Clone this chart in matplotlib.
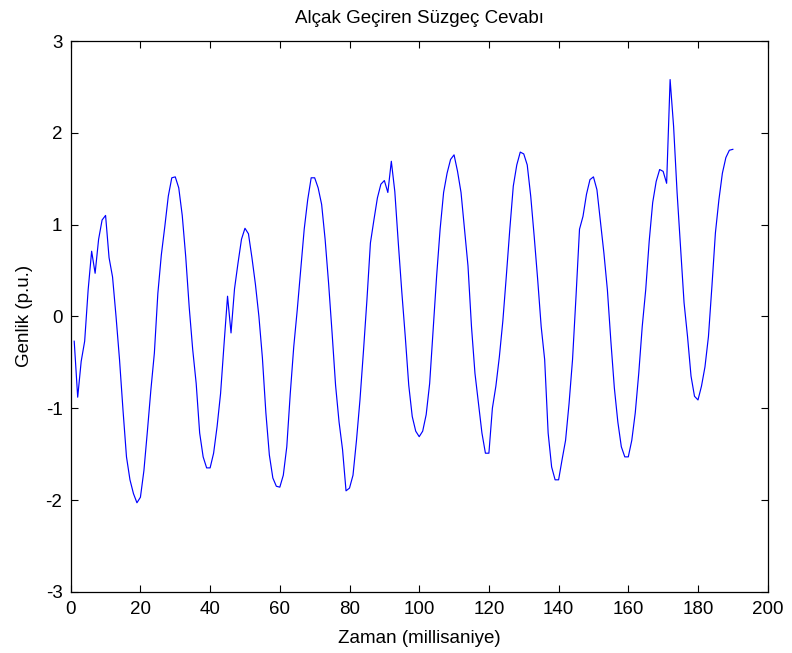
import numpy as np
import matplotlib
matplotlib.use("Agg")
import matplotlib.pyplot as plt

# Filter output, one sample per millisecond
time_ms = np.arange(1, 191)
amplitude = [
    -0.27, -0.88, -0.49, -0.27, 0.29, 0.71, 0.47, 0.84, 1.05, 1.10,
    0.64, 0.43, 0.00, -0.47, -1.02, -1.53, -1.78, -1.93, -2.03, -1.97,
    -1.68, -1.25, -0.80, -0.40, 0.25, 0.67, 0.98, 1.31, 1.51, 1.52,
    1.40, 1.10, 0.65, 0.10, -0.36, -0.73, -1.27, -1.53, -1.65, -1.65,
    -1.49, -1.20, -0.84, -0.30, 0.22, -0.18, 0.30, 0.58, 0.84, 0.96,
    0.90, 0.64, 0.35, 0.00, -0.45, -1.05, -1.51, -1.76, -1.85, -1.86,
    -1.73, -1.42, -0.84, -0.33, 0.07, 0.51, 0.95, 1.27, 1.51, 1.51,
    1.40, 1.22, 0.84, 0.36, -0.18, -0.75, -1.15, -1.45, -1.90, -1.87,
    -1.73, -1.35, -0.91, -0.38, 0.18, 0.80, 1.05, 1.29, 1.44, 1.48,
    1.35, 1.69, 1.36, 0.80, 0.27, -0.22, -0.75, -1.09, -1.25, -1.31,
    -1.25, -1.07, -0.73, -0.15, 0.44, 0.95, 1.35, 1.56, 1.71, 1.76,
    1.58, 1.35, 0.95, 0.55, -0.11, -0.62, -0.95, -1.27, -1.49, -1.49,
    -1.00, -0.76, -0.44, -0.05, 0.44, 0.95, 1.42, 1.65, 1.79, 1.77,
    1.65, 1.31, 0.87, 0.40, -0.11, -0.47, -1.27, -1.64, -1.78, -1.78,
    -1.56, -1.35, -0.95, -0.47, 0.22, 0.95, 1.09, 1.33, 1.49, 1.52,
    1.38, 1.04, 0.69, 0.29, -0.27, -0.78, -1.15, -1.42, -1.53, -1.53,
    -1.35, -1.05, -0.62, -0.11, 0.29, 0.82, 1.24, 1.47, 1.60, 1.58,
    1.45, 2.58, 2.07, 1.35, 0.75, 0.15, -0.22, -0.65, -0.87, -0.91,
    -0.76, -0.55, -0.22, 0.33, 0.91, 1.27, 1.56, 1.73, 1.81, 1.82,
]

x_ticks = list(range(0, 201, 20))
y_ticks = list(range(-3, 4))

plt.rcParams["font.family"] = ["Liberation Sans", "DejaVu Sans"]
plt.rcParams["axes.unicode_minus"] = False

fig = plt.figure(figsize=(7.92, 6.53), dpi=100)
ax = fig.add_axes([0.0893, 0.0937, 0.8800, 0.8435])

ax.plot(time_ms, amplitude, color="#0000ff", linewidth=0.85)

ax.set_xlim(0, 200)
ax.set_ylim(-3, 3)
ax.set_xticks(x_ticks)
ax.set_yticks(y_ticks)
ax.tick_params(direction="in", length=5, width=0.8, top=True, right=True,
               labelsize=13.5, colors="black")
ax.tick_params(axis="x", pad=6.5)
ax.tick_params(axis="y", pad=6)
for spine in ax.spines.values():
    spine.set_linewidth(0.9)

ax.set_title("Alçak Geçiren Süzgeç Cevabı", fontsize=13.5, pad=13)
ax.set_xlabel("Zaman (millisaniye)", fontsize=13.5, labelpad=8.5)
ax.set_ylabel("Genlik (p.u.)", fontsize=13.5, labelpad=9)

fig.savefig("out.png", dpi=100)
